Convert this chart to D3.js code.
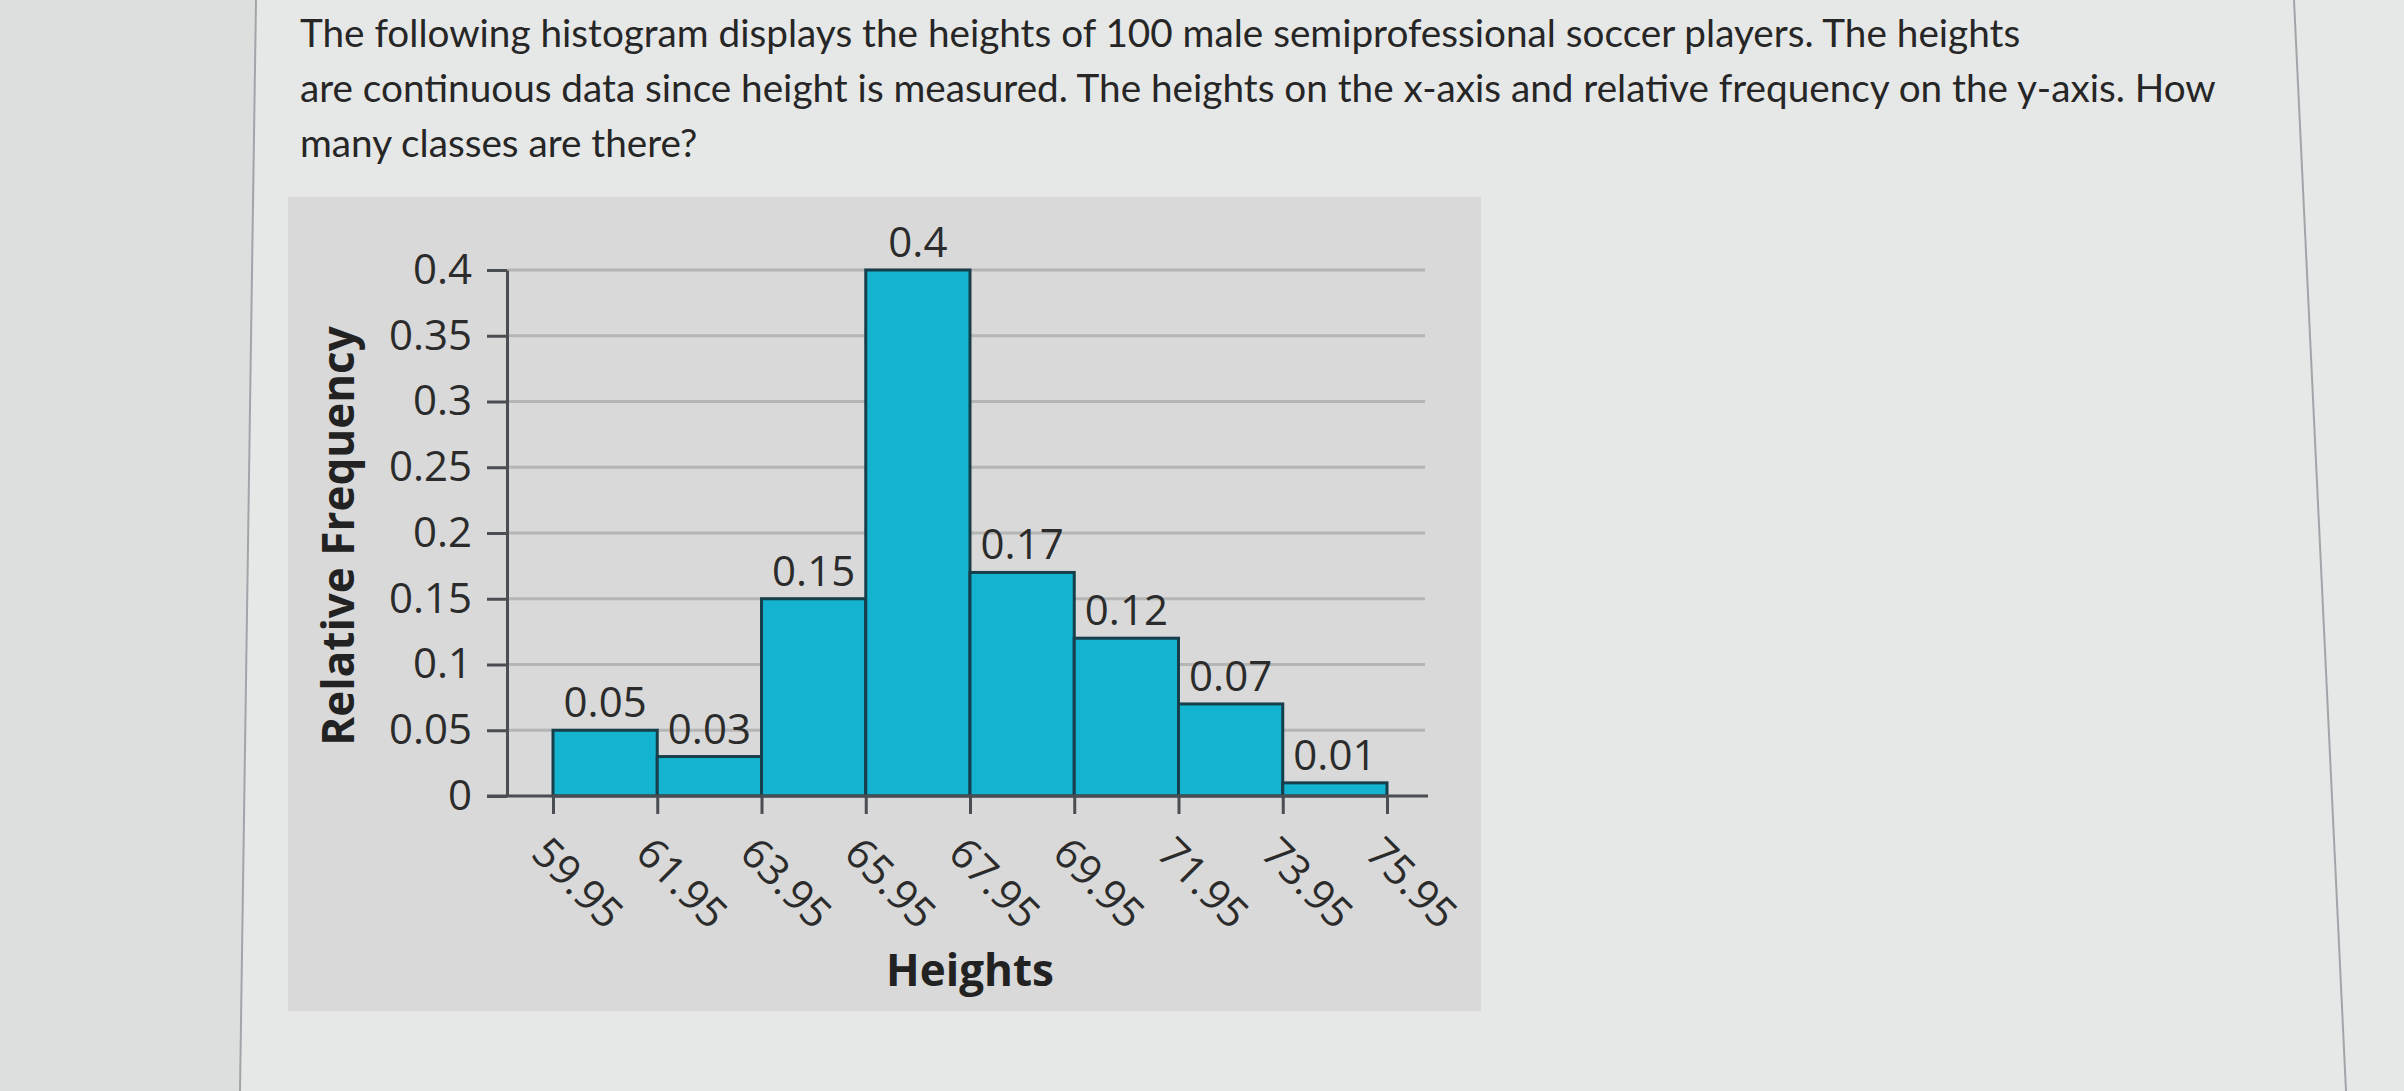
<!DOCTYPE html>
<html>
<head>
<meta charset="utf-8">
<script src="https://cdn.jsdelivr.net/npm/d3@7"></script>
<style>
  html, body { margin: 0; padding: 0; background: #e6e8e7; }
  svg { display: block; }
</style>
</head>
<body>
<div id="chart"></div>
<script>
// data
var binEdges = [59.95, 61.95, 63.95, 65.95, 67.95, 69.95, 71.95, 73.95, 75.95];
var relFreq = [0.05, 0.03, 0.15, 0.4, 0.17, 0.12, 0.07, 0.01];
var freqLabels = ["0.05", "0.03", "0.15", "0.4", "0.17", "0.12", "0.07", "0.01"];
var yTicks = [0, 0.05, 0.1, 0.15, 0.2, 0.25, 0.3, 0.35, 0.4];
var yTickLabels = ["0", "0.05", "0.1", "0.15", "0.2", "0.25", "0.3", "0.35", "0.4"];
var questionLines = [
  "The following histogram displays the heights of 100 male semiprofessional soccer players. The heights",
  "are continuous data since height is measured. The heights on the x-axis and relative frequency on the y-axis. How",
  "many classes are there?"
];

var width = 2404, height = 1091;
var svg = d3.select("#chart").append("svg")
  .attr("width", width)
  .attr("height", height);

// page background: darker strip left, content area, border lines
svg.append("rect").attr("x", 0).attr("y", 0).attr("width", width).attr("height", height).attr("fill", "#e6e8e7");
svg.append("path").attr("d", "M0,0 L256,0 L240,1091 L0,1091 Z").attr("fill", "#dddfde");
svg.append("line").attr("x1", 256).attr("y1", 0).attr("x2", 240).attr("y2", height)
  .attr("stroke", "#a2a4aa").attr("stroke-width", 2);
svg.append("line").attr("x1", 2294).attr("y1", 0).attr("x2", 2346).attr("y2", height)
  .attr("stroke", "#a2a4aa").attr("stroke-width", 2);

// question text
var q = svg.append("g").attr("font-family", "Lato, sans-serif").attr("fill", "#262626");
q.selectAll("text")
  .data(questionLines)
  .enter()
  .append("text")
  .attr("x", 300)
  .attr("y", function(d, i) { return 47 + i * 55; })
  .attr("font-size", "36px")
  .text(function(d) { return d; });
// stretch font size so the first line ends where it does in the picture
var first = q.select("text").node();
var fs = 36 * 1721 / first.getComputedTextLength();
q.selectAll("text").attr("font-size", fs + "px");

// chart panel
svg.append("rect")
  .attr("x", 288).attr("y", 197)
  .attr("width", 1193).attr("height", 814)
  .attr("fill", "#d8d9d8");

var x = d3.scaleLinear().domain([binEdges[0], binEdges[binEdges.length - 1]]).range([553, 1387]);
var y = d3.scaleLinear().domain([0, 0.4]).range([796, 270]);
var axisX = 507;

var chart = svg.append("g").attr("font-family", "'Open Sans', sans-serif");

// gridlines
chart.selectAll("line.grid")
  .data(yTicks.slice(1))
  .enter()
  .append("line")
  .attr("class", "grid")
  .attr("x1", axisX).attr("x2", 1425)
  .attr("y1", function(d) { return y(d); })
  .attr("y2", function(d) { return y(d); })
  .attr("stroke", "#b4b5b5")
  .attr("stroke-width", 3);

// bars
var bins = relFreq.map(function(v, i) {
  return { x0: binEdges[i], x1: binEdges[i + 1], v: v, label: freqLabels[i] };
});
chart.selectAll("rect.bar")
  .data(bins)
  .enter()
  .append("rect")
  .attr("class", "bar")
  .attr("x", function(d) { return x(d.x0); })
  .attr("y", function(d) { return y(d.v); })
  .attr("width", function(d) { return x(d.x1) - x(d.x0); })
  .attr("height", function(d) { return y(0) - y(d.v); })
  .attr("fill", "#14b3cf")
  .attr("stroke", "#163f4b")
  .attr("stroke-width", 3);

// value labels above bars
chart.selectAll("text.val")
  .data(bins)
  .enter()
  .append("text")
  .attr("class", "val")
  .attr("x", function(d) { return (x(d.x0) + x(d.x1)) / 2; })
  .attr("y", function(d) { return y(d.v) - 13; })
  .attr("text-anchor", "middle")
  .attr("font-size", "42px")
  .attr("fill", "#2b2b2b")
  .text(function(d) { return d.label; });

// y axis
var yAxis = d3.axisLeft(y)
  .tickValues(yTicks)
  .tickFormat(function(d, i) { return yTickLabels[i]; })
  .tickSize(20)
  .tickSizeOuter(0)
  .tickPadding(15);
var gy = chart.append("g").attr("transform", "translate(" + axisX + ",0)").call(yAxis);
gy.select(".domain").attr("stroke", "#4a4d52").attr("stroke-width", 3);
gy.selectAll(".tick line").attr("stroke", "#4a4d52").attr("stroke-width", 3);
gy.selectAll(".tick text")
  .attr("font-family", "'Open Sans', sans-serif")
  .attr("font-size", "42px")
  .attr("fill", "#2b2b2b");

// x axis
var xAxis = d3.axisBottom(x)
  .tickValues(binEdges)
  .tickSize(18)
  .tickFormat("");
var gx = chart.append("g").attr("transform", "translate(0," + y(0) + ")").call(xAxis);
gx.select(".domain").remove();
gx.selectAll(".tick line").attr("stroke", "#4a4d52").attr("stroke-width", 3);
chart.append("line")
  .attr("x1", 487).attr("x2", 1428)
  .attr("y1", y(0)).attr("y2", y(0))
  .attr("stroke", "#4a4d52").attr("stroke-width", 3);

// rotated tick labels
chart.selectAll("text.xlab")
  .data(binEdges)
  .enter()
  .append("text")
  .attr("class", "xlab")
  .attr("transform", function(d) { return "translate(" + (x(d) - 2) + "," + (y(0) + 38) + ") rotate(45)"; })
  .attr("dy", "0.72em")
  .attr("font-size", "42px")
  .attr("fill", "#2b2b2b")
  .text(function(d) { return d.toFixed(2); });

// axis titles
chart.append("text")
  .attr("x", 970).attr("y", 986)
  .attr("text-anchor", "middle")
  .attr("font-size", "44px")
  .attr("font-weight", "bold")
  .attr("fill", "#222")
  .text("Heights");

chart.append("text")
  .attr("transform", "translate(354,536) rotate(-90)")
  .attr("text-anchor", "middle")
  .attr("font-size", "44px")
  .attr("font-weight", "bold")
  .attr("fill", "#222")
  .text("Relative Frequency");
</script>
</body>
</html>
